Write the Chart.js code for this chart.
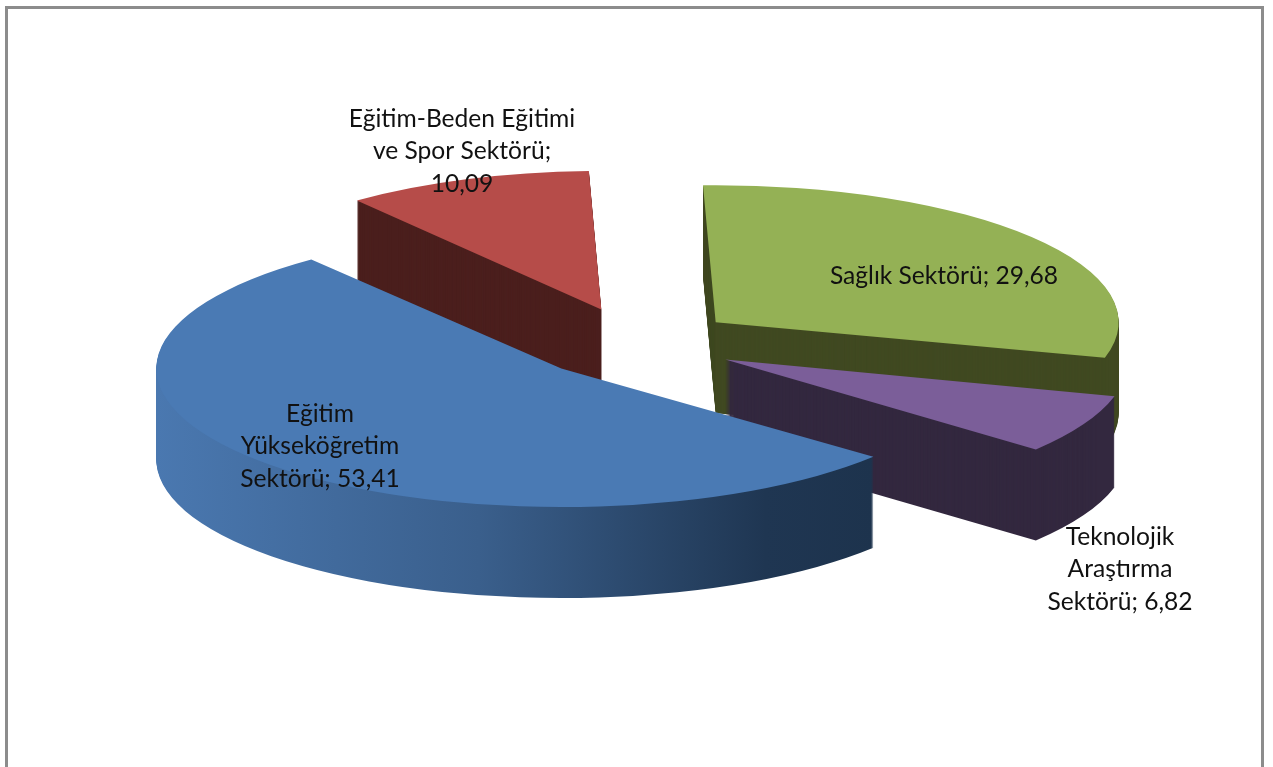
<html lang="tr">
<head>
<meta charset="UTF-8">
<title>Sektörler</title>
<script src="https://cdn.jsdelivr.net/npm/chart.js"></script>
<style>
  html, body { margin: 0; padding: 0; background: #fff; overflow: hidden; }
  canvas { display: block; }
</style>
</head>
<body>
<canvas id="pie" width="1273" height="767"></canvas>
<script>
// data
const categories = ['Sağlık Sektörü', 'Teknolojik Araştırma Sektörü', 'Eğitim Yükseköğretim Sektörü', 'Eğitim-Beden Eğitimi ve Spor Sektörü'];
const values = [29.68, 6.82, 53.41, 10.09];
const labelLines = [
  ['Sağlık Sektörü; 29,68'],
  ['Teknolojik', 'Araştırma', 'Sektörü; 6,82'],
  ['Eğitim', 'Yükseköğretim', 'Sektörü; 53,41'],
  ['Eğitim-Beden Eğitimi', 've Spor Sektörü;', '10,09']
];

// look
const topColors = ['#94B155', '#7B5E99', '#4A7AB4', '#B64C49'];
const sideColors = ['#404921', '#33283F', null, '#4B1F1D'];
const explode = [101, 100, 105, 103];     // how far each slice is pulled out
const radii = [403, 403, 405, 396];       // perspective, so not all the same
const tilts = [0.34, 0.35, 0.342, 0.35];
const drawOrder = [3, 0, 1, 2];           // back to front
const labelX = [944, 1120, 320, 462];
const labelY = [276, 537, 414, 119];
const lineHeight = 32.5;
const depth = 91;

const pie3d = {
  id: 'pie3d',
  beforeDraw(chart) {
    const ctx = chart.ctx;
    ctx.save();
    ctx.fillStyle = '#fff';
    ctx.fillRect(0, 0, chart.width, chart.height);
    ctx.strokeStyle = '#8c8c8c';
    ctx.lineWidth = 3;
    ctx.beginPath();
    ctx.moveTo(6.5, chart.height + 5);
    ctx.lineTo(6.5, 7.5);
    ctx.lineTo(1262.5, 7.5);
    ctx.lineTo(1262.5, chart.height + 5);
    ctx.stroke();
    ctx.restore();
  },
  // replaces the flat drawing: each slice is tilted, pulled out and extruded
  beforeDatasetsDraw(chart) {
    const ctx = chart.ctx;
    const arcs = chart.getDatasetMeta(0).data;
    drawOrder.forEach(i => {
      const arc = arcs[i];
      const mid = (arc.startAngle + arc.endAngle) / 2;
      const place = d => {
        ctx.translate(0, arc.y + d);
        ctx.scale(1, tilts[i]);
        ctx.translate(Math.cos(mid) * explode[i], -arc.y + Math.sin(mid) * explode[i]);
      };
      let side = sideColors[i];
      if (!side) {
        const g = ctx.createLinearGradient(arc.x - radii[i], 0, arc.x + radii[i] * Math.cos(arc.startAngle), 0);
        g.addColorStop(0, '#4A78B0');
        g.addColorStop(0.45, '#3A5F8C');
        g.addColorStop(0.85, '#1F3652');
        g.addColorStop(1, '#1D334D');
        side = g;
      }
      const face = Object.create(arc);
      face.outerRadius = radii[i];
      const wall = Object.create(face);
      wall.options = Object.assign({}, arc.options, { backgroundColor: side });
      for (let d = depth; d > 0; d--) {
        ctx.save();
        place(d);
        wall.draw(ctx);
        ctx.restore();
      }
      ctx.save();
      place(0);
      face.draw(ctx);
      ctx.restore();
    });
    return false;
  },
  afterDraw(chart) {
    const ctx = chart.ctx;
    ctx.save();
    ctx.font = '24.6px Lato';
    ctx.fillStyle = '#111';
    ctx.textAlign = 'center';
    ctx.textBaseline = 'middle';
    labelLines.forEach((lines, i) => {
      lines.forEach((line, n) => ctx.fillText(line, labelX[i], labelY[i] + n * lineHeight));
    });
    ctx.restore();
  }
};

new Chart(document.getElementById('pie'), {
  type: 'pie',
  data: {
    labels: categories,
    datasets: [{ data: values, backgroundColor: topColors, borderWidth: 0 }]
  },
  options: {
    responsive: false,
    animation: false,
    rotation: -1.8,
    radius: 400,
    layout: { padding: { bottom: 80 } },
    plugins: { legend: { display: false }, tooltip: { enabled: false } }
  },
  plugins: [pie3d]
});
</script>
</body>
</html>
